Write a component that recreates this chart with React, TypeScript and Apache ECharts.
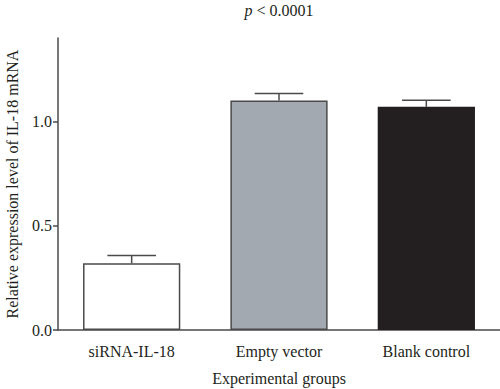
import React, { useEffect, useRef } from "react";
import * as echarts from "echarts";

const categories = ["siRNA-IL-18", "Empty vector", "Blank control"];
const means = [0.32, 1.1, 1.07];
const errors = [0.037, 0.034, 0.032];
const barColors = ["#ffffff", "#a3a9b1", "#231f20"];
const yTicks = [0, 0.5, 1.0];
const pText = "p < 0.0001";

const FONT = "'Liberation Serif', 'DejaVu Serif', serif";
const AXIS = "#4a4a4a";
const FS = 16;

export default function App() {
  const ref = useRef<HTMLDivElement>(null);
  useEffect(() => {
    if (!ref.current) return;
    const chart = echarts.init(ref.current, undefined, { renderer: "svg" });
    chart.setOption({
      animation: false,
      backgroundColor: "#ffffff",
      textStyle: { fontFamily: FONT },
      grid: { left: 58, right: 0, top: 38, bottom: 59, containLabel: false, outerBoundsMode: "none" },
      graphic: [
        {
          type: "text",
          x: 279,
          y: 10,
          style: {
            text: "{i|p}" + pText.slice(1),
            x: 0,
            y: 0,
            align: "center",
            verticalAlign: "middle",
            font: FS + "px " + FONT,
            fill: "#231f20",
            rich: {
              i: { fontStyle: "italic", fontFamily: FONT, fontSize: FS, fill: "#231f20" },
            },
          },
        },
      ],
      xAxis: {
        type: "category",
        data: categories,
        name: "Experimental groups",
        nameLocation: "middle",
        nameGap: 40,
        nameTextStyle: { fontFamily: FONT, fontSize: FS, color: "#231f20" },
        axisLine: { lineStyle: { color: AXIS, width: 1.5 } },
        axisTick: { alignWithLabel: true, length: 7, lineStyle: { color: AXIS, width: 1.5 } },
        axisLabel: { fontFamily: FONT, fontSize: FS, color: "#231f20", margin: 13 },
      },
      yAxis: {
        type: "value",
        min: 0,
        max: 1.4,
        name: "Relative expression level of IL-18 mRNA",
        nameLocation: "middle",
        nameGap: 38,
        nameTextStyle: { fontFamily: FONT, fontSize: FS, color: "#231f20" },
        axisLine: { show: true, lineStyle: { color: AXIS, width: 1.5 } },
        axisTick: { show: true, length: 5, customValues: yTicks, lineStyle: { color: AXIS, width: 1.5 } },
        axisLabel: {
          fontFamily: FONT,
          fontSize: FS,
          color: "#231f20",
          margin: 6,
          customValues: yTicks,
          formatter: (v: number) => v.toFixed(1),
        },
        splitLine: { show: false },
      },
      series: [
        {
          type: "bar",
          barWidth: "66%",
          data: means.map((v, i) => ({
            value: v,
            itemStyle: { color: barColors[i], borderColor: i === 2 ? "#231f20" : AXIS, borderWidth: 1.5 },
          })),
        },
        {
          type: "custom",
          data: means.map((v, i) => [i, v, v + errors[i]]),
          renderItem: (params: any, api: any) => {
            const x = api.value(0);
            const base = api.coord([x, api.value(1)]);
            const top = api.coord([x, api.value(2)]);
            const band = api.size([1, 0])[0];
            const half = band * 0.165;
            const style = { stroke: AXIS, lineWidth: 1.5 };
            return {
              type: "group",
              children: [
                { type: "line", shape: { x1: base[0], y1: base[1], x2: top[0], y2: top[1] }, style },
                { type: "line", shape: { x1: top[0] - half, y1: top[1], x2: top[0] + half, y2: top[1] }, style },
              ],
            };
          },
          z: 3,
        },
      ],
    });
    return () => chart.dispose();
  }, []);
  return <div ref={ref} style={{ width: 500, height: 389, position: "absolute", left: 0, top: 0 }} />;
}
